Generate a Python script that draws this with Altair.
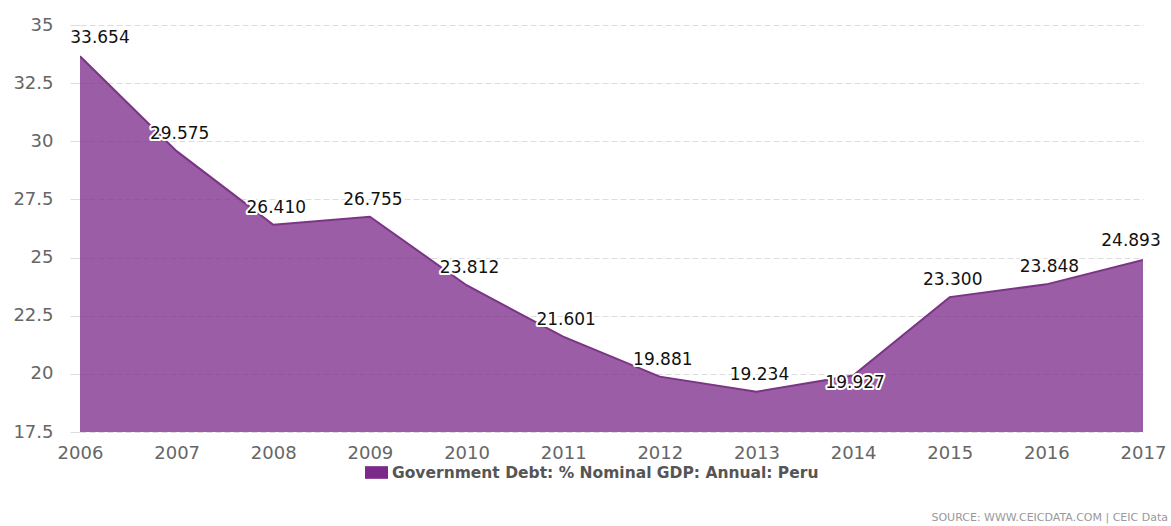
import altair as alt
import pandas as pd

years = [2006, 2007, 2008, 2009, 2010, 2011, 2012, 2013, 2014, 2015, 2016, 2017]
values = [33.654, 29.575, 26.410, 26.755, 23.812, 21.601, 19.881, 19.234, 19.927, 23.300, 23.848, 24.893]
labels = ["33.654", "29.575", "26.410", "26.755", "23.812", "21.601", "19.881",
          "19.234", "19.927", "23.300", "23.848", "24.893"]
series_name = "Government Debt: % Nominal GDP: Annual: Peru"
y_ticks = [17.5, 20, 22.5, 25, 27.5, 30, 32.5, 35]

df = pd.DataFrame({"year": years, "value": values, "label": labels,
                   "series": [series_name] * len(years)})

W, H = 1063, 407
FONT = "DejaVu Sans"

x = alt.X("year:Q", scale=alt.Scale(domain=[2006, 2017], nice=False, zero=False),
          axis=alt.Axis(values=years, format="d", title=None, grid=False, domain=False,
                        ticks=False, labelFontSize=18, labelColor="#666666",
                        labelPadding=12, labelFont=FONT, labelFlush=False))
y = alt.Y("value:Q", scale=alt.Scale(domain=[17.5, 35], nice=False, zero=False),
          axis=alt.Axis(values=y_ticks, title=None, grid=True, gridDash=[6, 3],
                        gridColor="#dddddd", domain=False, ticks=True, tickSize=10,
                        tickColor="#dddddd", labelFontSize=18, labelColor="#666666",
                        labelPadding=17, labelFont=FONT, labelExpr="datum.value"))

base = alt.Chart(df)

area = base.mark_area(fillOpacity=0.76, clip=True).encode(
    x=x, y=y,
    color=alt.Color("series:N", scale=alt.Scale(range=["#7b2a8a"]),
                    legend=alt.Legend(title=None, orient="none", legendX=285, legendY=436,
                                      symbolType="M-1,-0.55H1V0.55H-1Z", symbolSize=529,
                                      symbolOpacity=1, symbolStrokeWidth=0,
                                      labelFontSize=15.5, labelFont=FONT, labelFontWeight="bold",
                                      labelColor="#555555", labelLimit=600))
)
line = base.mark_line(color="#7a3585", strokeWidth=2, clip=True).encode(x="year:Q", y="value:Q")

def text_layer(filter_expr, dx, dy, halo):
    props = dict(fontSize=17, font=FONT, dx=dx, dy=dy, align="center", baseline="middle")
    if halo:
        props.update(color="white", stroke="white", strokeWidth=4, strokeJoin="round")
    else:
        props.update(color="#111111")
    return base.transform_filter(filter_expr).mark_text(**props).encode(
        x="year:Q", y="value:Q", text="label:N")

texts = []
for halo in (True, False):
    texts.append(text_layer("datum.year == 2006", 20, -18, halo))
    texts.append(text_layer("datum.year == 2017", -12, -19, halo))
    texts.append(text_layer("datum.year == 2014", 2, 7, halo))
    texts.append(text_layer("datum.year > 2006 && datum.year < 2017 && datum.year != 2014", 3, -17, halo))

source = alt.Chart(pd.DataFrame({"t": ["SOURCE: WWW.CEICDATA.COM | CEIC Data"]})).mark_text(
    align="right", baseline="middle", fontSize=11, font=FONT, color="#999999"
).encode(x=alt.value(W + 25), y=alt.value(H + 86), text="t:N")

chart = alt.layer(area, line, *texts, source).properties(
    width=W, height=H,
    autosize=alt.AutoSizeParams(type="none"),
    padding={"left": 80, "top": 25, "right": 28, "bottom": 94},
    background="white",
).configure_view(stroke=None)

chart.save("out.html", embed_options={"renderer": "svg", "actions": False})
